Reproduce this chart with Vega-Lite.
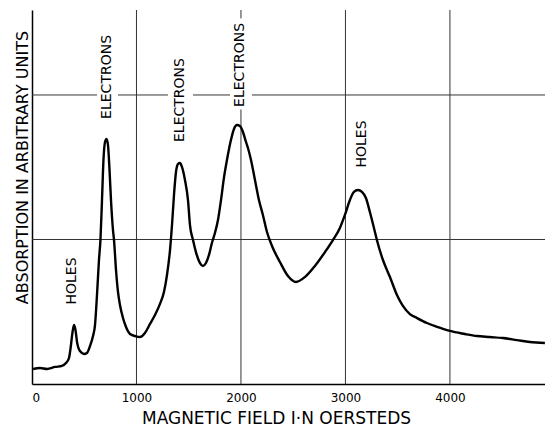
{
  "$schema": "https://vega.github.io/schema/vega-lite/v6.json",
  "autosize": {"type": "none"},
  "width": 513,
  "height": 374,
  "padding": {"left": 32, "top": 10, "right": 0, "bottom": 42},
  "background": "white",
  "config": {"view": {"stroke": null}, "font": "DejaVu Sans"},
  "datasets": {
    "curve": [
      {"field": 10, "abs": 0.104}, {"field": 77, "abs": 0.111}, {"field": 144, "abs": 0.104}, {"field": 220, "abs": 0.118},
      {"field": 287, "abs": 0.125}, {"field": 325, "abs": 0.145}, {"field": 354, "abs": 0.18}, {"field": 373, "abs": 0.27},
      {"field": 388, "abs": 0.36}, {"field": 402, "abs": 0.408}, {"field": 416, "abs": 0.374}, {"field": 431, "abs": 0.291},
      {"field": 459, "abs": 0.228}, {"field": 498, "abs": 0.208}, {"field": 526, "abs": 0.215}, {"field": 555, "abs": 0.263},
      {"field": 584, "abs": 0.332}, {"field": 603, "abs": 0.408}, {"field": 622, "abs": 0.616}, {"field": 641, "abs": 0.858},
      {"field": 655, "abs": 0.996}, {"field": 670, "abs": 1.273}, {"field": 684, "abs": 1.55}, {"field": 699, "abs": 1.675},
      {"field": 713, "abs": 1.695}, {"field": 727, "abs": 1.654}, {"field": 742, "abs": 1.481}, {"field": 756, "abs": 1.273},
      {"field": 775, "abs": 1.066}, {"field": 785, "abs": 0.996}, {"field": 804, "abs": 0.789}, {"field": 823, "abs": 0.637},
      {"field": 842, "abs": 0.547}, {"field": 871, "abs": 0.457}, {"field": 900, "abs": 0.394}, {"field": 938, "abs": 0.346},
      {"field": 986, "abs": 0.332}, {"field": 1033, "abs": 0.325}, {"field": 1081, "abs": 0.353}, {"field": 1129, "abs": 0.415},
      {"field": 1177, "abs": 0.477}, {"field": 1225, "abs": 0.554}, {"field": 1263, "abs": 0.637}, {"field": 1292, "abs": 0.754},
      {"field": 1321, "abs": 0.927}, {"field": 1340, "abs": 1.1}, {"field": 1359, "abs": 1.308}, {"field": 1378, "abs": 1.467},
      {"field": 1397, "abs": 1.522}, {"field": 1416, "abs": 1.529}, {"field": 1435, "abs": 1.502}, {"field": 1464, "abs": 1.412},
      {"field": 1493, "abs": 1.273}, {"field": 1512, "abs": 1.1}, {"field": 1541, "abs": 0.996}, {"field": 1569, "abs": 0.913},
      {"field": 1608, "abs": 0.837}, {"field": 1636, "abs": 0.817}, {"field": 1665, "abs": 0.837}, {"field": 1694, "abs": 0.893},
      {"field": 1722, "abs": 0.976}, {"field": 1751, "abs": 1.045}, {"field": 1780, "abs": 1.135}, {"field": 1809, "abs": 1.273},
      {"field": 1837, "abs": 1.426}, {"field": 1866, "abs": 1.55}, {"field": 1904, "abs": 1.688}, {"field": 1933, "abs": 1.765},
      {"field": 1962, "abs": 1.792}, {"field": 1990, "abs": 1.785}, {"field": 2019, "abs": 1.744}, {"field": 2048, "abs": 1.675},
      {"field": 2067, "abs": 1.633}, {"field": 2096, "abs": 1.55}, {"field": 2134, "abs": 1.412}, {"field": 2172, "abs": 1.273},
      {"field": 2210, "abs": 1.17}, {"field": 2249, "abs": 1.052}, {"field": 2297, "abs": 0.955}, {"field": 2373, "abs": 0.844},
      {"field": 2450, "abs": 0.747}, {"field": 2526, "abs": 0.706}, {"field": 2612, "abs": 0.74}, {"field": 2708, "abs": 0.817},
      {"field": 2804, "abs": 0.913}, {"field": 2880, "abs": 0.996}, {"field": 2947, "abs": 1.08}, {"field": 2995, "abs": 1.17},
      {"field": 3043, "abs": 1.273}, {"field": 3081, "abs": 1.329}, {"field": 3120, "abs": 1.342}, {"field": 3158, "abs": 1.329},
      {"field": 3196, "abs": 1.287}, {"field": 3234, "abs": 1.19}, {"field": 3273, "abs": 1.08}, {"field": 3301, "abs": 0.996},
      {"field": 3359, "abs": 0.858}, {"field": 3426, "abs": 0.74}, {"field": 3493, "abs": 0.616}, {"field": 3550, "abs": 0.54},
      {"field": 3617, "abs": 0.484}, {"field": 3684, "abs": 0.457}, {"field": 3780, "abs": 0.422}, {"field": 3885, "abs": 0.394},
      {"field": 4000, "abs": 0.367}, {"field": 4143, "abs": 0.346}, {"field": 4258, "abs": 0.332}, {"field": 4383, "abs": 0.325},
      {"field": 4507, "abs": 0.318}, {"field": 4641, "abs": 0.304}, {"field": 4765, "abs": 0.291}, {"field": 4909, "abs": 0.284}
    ],
    "vgrid": [
      {"x": 1000, "y": 0, "y2": 2.588},
      {"x": 2000, "y": 0, "y2": 1.9},
      {"x": 2000, "y": 2.53, "y2": 2.588},
      {"x": 3000, "y": 0, "y2": 2.588},
      {"x": 4000, "y": 0, "y2": 2.588}
    ],
    "hgrid": [
      {"y": 1, "x": 0, "x2": 4910},
      {"y": 2, "x": 0, "x2": 622},
      {"y": 2, "x": 823, "x2": 1301},
      {"y": 2, "x": 1541, "x2": 1895},
      {"y": 2, "x": 2105, "x2": 4910}
    ],
    "labels": [
      {"field": 383, "abs": 0.713, "label": "HOLES"},
      {"field": 717, "abs": 2.125, "label": "ELECTRONS"},
      {"field": 1416, "abs": 1.965, "label": "ELECTRONS"},
      {"field": 1990, "abs": 2.208, "label": "ELECTRONS"},
      {"field": 3158, "abs": 1.661, "label": "HOLES"}
    ]
  },
  "layer": [
    {
      "data": {"name": "vgrid"},
      "mark": {"type": "rule", "color": "#333333", "strokeWidth": 1},
      "encoding": {
        "x": {
          "field": "x", "type": "quantitative",
          "scale": {"domain": [0, 4910], "nice": false},
          "axis": {
            "values": [0, 1000, 2000, 3000, 4000], "format": "d", "grid": false, "ticks": false,
            "domainColor": "black", "domainWidth": 1.5,
            "labelFont": "DejaVu Sans", "labelFontSize": 12, "labelColor": "black", "labelPadding": 8,
            "title": "MAGNETIC FIELD I·N OERSTEDS", "titleFont": "DejaVu Sans", "titleFontSize": 17,
            "titleFontWeight": "normal", "titleColor": "black", "titleX": 244, "titleY": 34,
            "titleBaseline": "middle", "titleAlign": "center"
          }
        },
        "y": {
          "field": "y", "type": "quantitative",
          "scale": {"domain": [0, 2.588], "nice": false},
          "axis": {
            "labels": false, "ticks": false, "grid": false,
            "domainColor": "black", "domainWidth": 1.5,
            "title": "ABSORPTION IN ARBITRARY UNITS", "titleFont": "DejaVu Sans", "titleFontSize": 16,
            "titleFontWeight": "normal", "titleColor": "black", "titleX": -10, "titleY": 157,
            "titleAngle": 270, "titleBaseline": "middle", "titleAlign": "center"
          }
        },
        "y2": {"field": "y2"}
      }
    },
    {
      "data": {"name": "hgrid"},
      "mark": {"type": "rule", "color": "#333333", "strokeWidth": 1},
      "encoding": {
        "y": {"field": "y", "type": "quantitative"},
        "x": {"field": "x", "type": "quantitative"},
        "x2": {"field": "x2"}
      }
    },
    {
      "data": {"name": "curve"},
      "mark": {"type": "line", "color": "black", "strokeWidth": 2.4, "interpolate": "monotone"},
      "encoding": {
        "x": {"field": "field", "type": "quantitative"},
        "y": {"field": "abs", "type": "quantitative"}
      }
    },
    {
      "data": {"name": "labels"},
      "mark": {"type": "text", "angle": 270, "align": "center", "baseline": "middle", "fontSize": 14, "font": "DejaVu Sans", "color": "black"},
      "encoding": {
        "x": {"field": "field", "type": "quantitative"},
        "y": {"field": "abs", "type": "quantitative"},
        "text": {"field": "label"}
      }
    }
  ]
}
